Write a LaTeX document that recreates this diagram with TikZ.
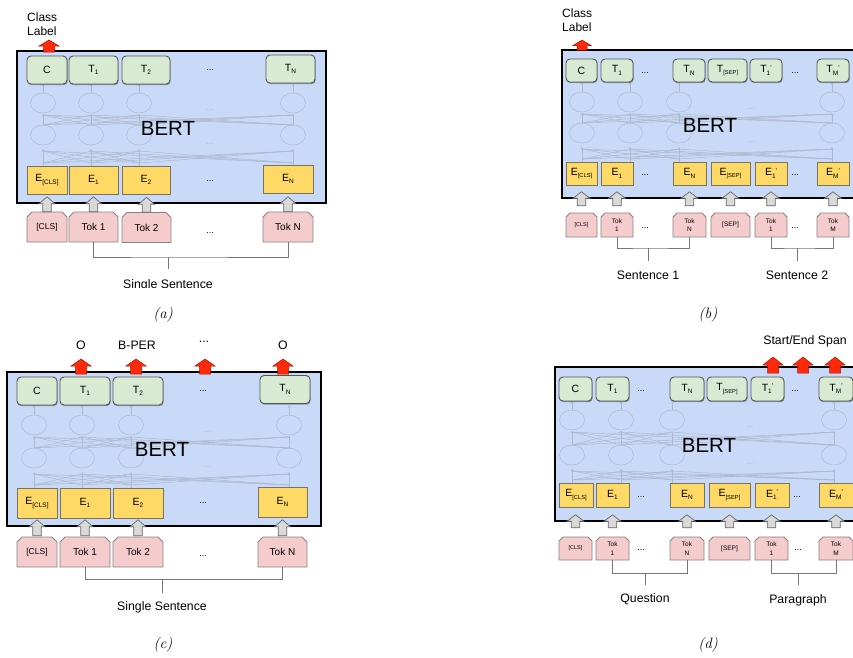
\documentclass[tikz,border=0pt]{standalone}
\usepackage{fontspec}
\newfontfamily\arialf{Liberation Sans}
\usetikzlibrary{shadows,calc,arrows.meta}
\definecolor{bertfill}{HTML}{C9DAF8}
\definecolor{gfill}{HTML}{D9EAD3}
\definecolor{gline}{HTML}{555555}
\definecolor{efill}{HTML}{FFD966}
\definecolor{eline}{HTML}{7A7260}
\definecolor{pfill}{HTML}{F4CCCC}
\definecolor{pline}{HTML}{8A8282}
\definecolor{afill}{HTML}{D9D9D9}
\definecolor{aline}{HTML}{666666}
\definecolor{rfill}{HTML}{FF2A0A}
\definecolor{rline}{HTML}{A81000}
\definecolor{netc}{HTML}{ADB8CD}
\definecolor{brkc}{HTML}{777777}
\newcommand\msub[1]{\raisebox{-0.45ex}{\fontsize{6.5}{7}\selectfont #1}}
\newcommand\msubs[1]{\raisebox{-0.45ex}{\fontsize{5.8}{6}\selectfont #1}}
\newcommand\mprime{\raisebox{0.45ex}{\fontsize{7}{7}\selectfont\char"27}}
\newcommand\blockarr[6][]{%
  \path[#1] let \p1=#2, \p2=#3 in
   (\x1-#4pt,\y1) -- (\x1-#4pt,\y2-#6pt) -- (\x1-#5pt,\y2-#6pt) -- (\x1,\y2)
   -- (\x1+#5pt,\y2-#6pt) -- (\x1+#4pt,\y2-#6pt) -- (\x1+#4pt,\y1) -- cycle;}
\newcommand\garr[5]{\blockarr[garrow]{($(#1.north)+(0,-#2)$)}{($(#1.north)+(0,-#3)$)}{4.2}{#4}{#5}}
% token box: [style]{name}{x}{y}{w}{h}{chamfer}{text}
\newcommand\tokbox[8][tok]{%
  \filldraw[tokshape] (#3-#5/2,#4+#6/2) -- (#3-#5/2,#4-#6/2+#7) -- (#3-#5/2+#7,#4-#6/2)
    -- (#3+#5/2-#7,#4-#6/2) -- (#3+#5/2,#4-#6/2+#7) -- (#3+#5/2,#4+#6/2) -- cycle;
  \node[#1,sz={#5}{#6}] (#2) at (#3,#4) {#8};}
\newcommand\bertnet[6]{%
  \foreach \xa in {#1}{
    \draw[net] (\xa,#2) ellipse (12.5 and 10);
    \draw[net] (\xa,#3) ellipse (12.5 and 10);
    \draw[neta] (\xa,#4) -- (\xa,#3+14);
    \draw[neta] (\xa,#3-10) -- (\xa,#2+11);
    \draw[neta] (\xa,#2-10) -- (\xa,#5);
    \foreach \xb in {#1}{
      \draw[net] (\xa,#4-3) -- (\xb,#3+16);
      \draw[net] (\xa,#3-10) -- (\xb,#2+12);
    }
  }
  \node[netdots] at (#6,#2+7) {...};
  \node[netdots] at (#6,#3+9) {...};
}
\begin{document}
\begin{tikzpicture}[x=1pt,y=-1pt,
  sz/.style 2 args={minimum width=#1pt,minimum height=#2pt},
  bert/.style={draw=black,line width=1.6pt,fill=bertfill,inner sep=0pt,anchor=north west},
  net/.style={draw=netc,line width=0.5pt},
  neta/.style={net,-{Stealth[length=2.5pt,width=2.5pt]}},
  netdots/.style={text=netc,font=\arialf\fontsize{8}{8}\selectfont,inner sep=0pt},
  bertlbl/.style={font=\arialf\fontsize{20.5}{20}\selectfont,inner sep=0pt},
  tbox/.style={draw=gline,fill=gfill,rounded corners=4pt,line width=0.9pt,inner sep=0pt,
     font=\arialf\fontsize{10.5}{10}\selectfont,
     drop shadow={shadow xshift=0.6pt,shadow yshift=-1.2pt,opacity=0.35,fill=black}},
  ebox/.style={draw=eline,fill=efill,line width=0.8pt,inner sep=0pt,
     font=\arialf\fontsize{10.5}{10}\selectfont},
  tokshape/.style={draw=pline,fill=pfill,line width=0.8pt},
  tok/.style={inner sep=0pt,align=center,font=\arialf\fontsize{10}{11}\selectfont},
  toks/.style={tok,font=\arialf\fontsize{6.5}{8.5}\selectfont},
  garrow/.style={draw=aline,fill=afill,line width=0.7pt},
  rarrow/.style={draw=rline,fill=rfill,line width=0.5pt},
  dots/.style={font=\arialf\fontsize{9}{9}\selectfont,inner sep=0pt},
  brk/.style={draw=brkc,line width=0.8pt},
  lbl/.style={font=\arialf\fontsize{12.3}{14}\selectfont,inner sep=0pt},
  caplbl/.style={font=\fontsize{15}{15}\selectfont\itshape,inner sep=0pt}]
\clip (0,0) rectangle (853,657);
\fill[white] (0,0) rectangle (853,657);

% ===================== (a) =====================
\node[bert,sz={309}{152}] (aB) at (16,50) {};
\bertnet{43,91,139,293}{103}{135}{166}{84}{210}
\node[bertlbl] (aBL) at (168,128) {BERT};
\node[tbox,sz={40}{28}] (aC) at (47,70) {C};
\node[tbox,sz={49}{28}] (aT1) at (93.5,70) {T\msub{1}};
\node[tbox,sz={48}{28}] (aT2) at (146,70) {T\msub{2}};
\node[dots] (aTd) at (210,70) {...};
\node[tbox,sz={49}{28}] (aTN) at (290.5,69) {T\msub{N}};
\node[ebox,sz={40}{28}] (aE0) at (47,180) {E\msub{[CLS]}};
\node[ebox,sz={49}{28}] (aE1) at (93.5,180) {E\msub{1}};
\node[ebox,sz={48}{28}] (aE2) at (146,180) {E\msub{2}};
\node[dots] (aEd) at (210,181) {...};
\node[ebox,sz={50}{28}] (aEN) at (288,179) {E\msub{N}};
\tokbox{aK0}{47}{227}{40}{30}{5}{\fontsize{8.5}{9}\selectfont[CLS]}
\tokbox{aK1}{93.5}{227}{49}{30}{5}{Tok 1}
\tokbox{aK2}{146.5}{227.5}{49}{30}{5}{Tok 2}
\node[dots] (aKd) at (210,233) {...};
\tokbox{aKN}{288}{227}{50}{30}{5}{Tok N}
\foreach \k in {aK0,aK1,aK2,aKN}{\garr{\k}{0}{15}{8}{7}}
\coordinate (aR0) at (49,52);
\coordinate (aR1) at (49,40);
\blockarr[rarrow]{(aR0)}{(aR1)}{5.5}{10}{6}
\node[lbl,align=left,anchor=west,font=\arialf\fontsize{12}{14}\selectfont] (aCL) at (27,24) {Class\\Label};
\coordinate (aBr) at (168,257);
\draw[brk] (aK1.south) |- (aBr) -| (aKN.south);
\coordinate (aBs) at (168,269);
\draw[brk] (aBr) -- (aBs);
\begin{scope}
\clip (0,0) rectangle (330,287);
\node[lbl,anchor=base] (aSS) at (168,288) {Single Sentence};
\end{scope}
\node[caplbl] (aCap) at (163,315) {(a)};

% ===================== (b) =====================
\node[bert,sz={320}{148}] (bB) at (561,49) {};
\bertnet{582,630,679,832}{102}{133}{162}{82}{752}
\node[bertlbl] (bBL) at (710,125) {BERT};
\node[tbox,sz={31}{23}] (bC) at (581.5,70.5) {C};
\node[tbox,sz={32}{23}] (bT1) at (617,70.5) {T\msub{1}};
\node[dots] (bTd1) at (645,73) {...};
\node[tbox,sz={32}{23}] (bTN) at (689,70.5) {T\msub{N}};
\node[tbox,sz={39}{23}] (bTS) at (727.5,70.5) {T\msubs{[SEP]}};
\node[tbox,sz={32}{23}] (bT1p) at (766,70.5) {T\msub{1}\mprime};
\node[dots] (bTd2) at (795,73) {...};
\node[tbox,sz={32}{23}] (bTM) at (833,70.5) {T\msub{M}\mprime};
\node[ebox,sz={31}{23}] (bE0) at (581.5,173.5) {E\msubs{[CLS]}};
\node[ebox,sz={32}{23}] (bE1) at (617,173.5) {E\msub{1}};
\node[dots] (bEd1) at (645,175) {...};
\node[ebox,sz={33}{23}] (bEN) at (689.5,173.5) {E\msub{N}};
\node[ebox,sz={39}{23}] (bES) at (730.5,173.5) {E\msubs{[SEP]}};
\node[ebox,sz={32}{23}] (bE1p) at (771,173.5) {E\msub{1}\mprime};
\node[dots] (bEd2) at (795,175) {...};
\node[ebox,sz={32}{23}] (bEM) at (833,173.5) {E\msub{M}\mprime};
\tokbox[toks]{bK0}{581.5}{225}{31}{24}{4}{\fontsize{5.5}{6}\selectfont[CLS]}
\tokbox[toks]{bK1}{617}{225}{32}{24}{4}{Tok\\1}
\node[dots] (bKd1) at (645,228) {...};
\tokbox[toks]{bKN}{689.5}{225}{33}{24}{4}{Tok\\N}
\tokbox[toks]{bKS}{730.5}{225}{39}{24}{4}{[SEP]}
\tokbox[toks]{bK1p}{771}{225}{32}{24}{4}{Tok\\1}
\node[dots] (bKd2) at (795,228) {...};
\tokbox[toks]{bKM}{833}{225}{32}{24}{4}{Tok\\M}
\foreach \k in {bK0,bK1,bKN,bKS,bK1p,bKM}{\garr{\k}{7}{21}{8.5}{6.5}}
\coordinate (bR0) at (582,50);
\coordinate (bR1) at (582,40);
\blockarr[rarrow]{(bR0)}{(bR1)}{5}{9}{5.5}
\node[lbl,align=left,anchor=west,font=\arialf\fontsize{12}{14}\selectfont] (bCL) at (562,20) {Class\\Label};
\coordinate (bBr1) at (648,248);
\draw[brk] (bK1.south) |- (bBr1) -| (bKN.south);
\coordinate (bBs1) at (648,261);
\draw[brk] (bBr1) -- (bBs1);
\node[lbl] (bS1) at (648,275) {Sentence 1};
\coordinate (bBr2) at (797,248);
\draw[brk] (bK1p.south) |- (bBr2) -| (bKM.south);
\coordinate (bBs2) at (797,261);
\draw[brk] (bBr2) -- (bBs2);
\node[lbl] (bS2) at (797,275) {Sentence 2};
\node[caplbl] (bCap) at (708,315) {(b)};

% ===================== (c) =====================
\node[bert,sz={314}{154}] (cB) at (6,371) {};
\bertnet{34,82,131,289}{425}{458}{488}{405}{207}
\node[bertlbl] (cBL) at (162,449) {BERT};
\node[tbox,sz={40}{28}] (cC) at (37,391) {C};
\node[tbox,sz={50}{28}] (cT1) at (85,391) {T\msub{1}};
\node[tbox,sz={50}{28}] (cT2) at (138,391) {T\msub{2}};
\node[dots] (cTd) at (203,391) {...};
\node[tbox,sz={50}{28}] (cTN) at (285,389.5) {T\msub{N}};
\node[ebox,sz={40}{30}] (cE0) at (37,503) {E\msub{[CLS]}};
\node[ebox,sz={50}{30}] (cE1) at (85,503) {E\msub{1}};
\node[ebox,sz={50}{30}] (cE2) at (138,503) {E\msub{2}};
\node[dots] (cEd) at (203,503) {...};
\node[ebox,sz={49}{30}] (cEN) at (282.5,502) {E\msub{N}};
\tokbox{cK0}{37}{552}{40}{30}{5}{\fontsize{8.5}{9}\selectfont[CLS]}
\tokbox{cK1}{85}{552}{50}{30}{5}{Tok 1}
\tokbox{cK2}{138}{552}{50}{30}{5}{Tok 2}
\node[dots] (cKd) at (203,556) {...};
\tokbox{cKN}{282.5}{552}{49}{30}{5}{Tok N}
\foreach \k in {cK0,cK1,cK2,cKN}{\garr{\k}{1}{17}{8}{7}}
\node[lbl] (cL1) at (81,345) {O};
\node[lbl] (cL2) at (137,345) {B-PER};
\node[lbl] (cL3) at (204,342) {...};
\node[lbl] (cL4) at (283,345) {O};
\foreach \xr/\nm in {81/1,136/2,205/3,283/4}{
  \coordinate (cR\nm a) at (\xr,374);
  \coordinate (cR\nm b) at (\xr,359);
  \blockarr[rarrow]{(cR\nm a)}{(cR\nm b)}{5.5}{10}{7}
}
\coordinate (cBr) at (162,579);
\draw[brk] (cK1.south) |- (cBr) -| (cKN.south);
\coordinate (cBs) at (162,593);
\draw[brk] (cBr) -- (cBs);
\node[lbl] (cSS) at (162,607) {Single Sentence};
\node[caplbl] (cCap) at (163,645) {(c)};

% ===================== (d) =====================
\node[bert,sz={320}{154}] (dB) at (554,366) {};
\bertnet{572,621,672,834}{420}{455}{483}{401}{750}
\node[bertlbl] (dBL) at (709,445) {BERT};
\node[tbox,sz={33}{24}] (dC) at (575.5,389) {C};
\node[tbox,sz={33}{24}] (dT1) at (612.5,389) {T\msub{1}};
\node[dots] (dTd1) at (641,391) {...};
\node[tbox,sz={34}{24}] (dTN) at (687,389) {T\msub{N}};
\node[tbox,sz={40}{24}] (dTS) at (727,389) {T\msubs{[SEP]}};
\node[tbox,sz={33}{24}] (dT1p) at (767.5,389) {T\msub{1}\mprime};
\node[dots] (dTd2) at (795,391) {...};
\node[tbox,sz={34}{24}] (dTM) at (836,389) {T\msub{M}\mprime};
\node[ebox,sz={34}{24}] (dE0) at (576,495) {E\msubs{[CLS]}};
\node[ebox,sz={33}{24}] (dE1) at (612.5,495) {E\msub{1}};
\node[dots] (dEd1) at (641,497) {...};
\node[ebox,sz={34}{24}] (dEN) at (687,495) {E\msub{N}};
\node[ebox,sz={41}{24}] (dES) at (729.5,495) {E\msubs{[SEP]}};
\node[ebox,sz={34}{24}] (dE1p) at (772,495) {E\msub{1}\mprime};
\node[dots] (dEd2) at (797,497) {...};
\node[ebox,sz={34}{24}] (dEM) at (836,495) {E\msub{M}\mprime};
\tokbox[toks]{dK0}{575.5}{548.5}{33}{23}{4}{\fontsize{5.5}{6}\selectfont[CLS]}
\tokbox[toks]{dK1}{612.5}{548.5}{33}{23}{4}{Tok\\1}
\node[dots] (dKd1) at (641,550) {...};
\tokbox[toks]{dKN}{687}{548.5}{34}{23}{4}{Tok\\N}
\tokbox[toks]{dKS}{729.5}{548.5}{41}{23}{4}{[SEP]}
\tokbox[toks]{dK1p}{771.5}{548.5}{33}{23}{4}{Tok\\1}
\node[dots] (dKd2) at (798,550) {...};
\tokbox[toks]{dKM}{836}{548.5}{34}{23}{4}{Tok\\M}
\foreach \k in {dK0,dK1,dKN,dKS,dK1p,dKM}{\garr{\k}{9}{22}{8.5}{6.5}}
\node[lbl] (dL) at (805,341) {Start/End Span};
\foreach \xr/\nm in {773/1,803/2,835/3}{
  \coordinate (dR\nm a) at (\xr,373);
  \coordinate (dR\nm b) at (\xr,357);
  \blockarr[rarrow]{(dR\nm a)}{(dR\nm b)}{5.5}{10}{8}
}
\coordinate (dBr1) at (645,573);
\draw[brk] (dK1.south) |- (dBr1) -| (dKN.south);
\coordinate (dBs1) at (645,585);
\draw[brk] (dBr1) -- (dBs1);
\node[lbl] (dQ) at (645,599) {Question};
\coordinate (dBr2) at (798,573);
\draw[brk] (dK1p.south) |- (dBr2) -| (dKM.south);
\coordinate (dBs2) at (798,585);
\draw[brk] (dBr2) -- (dBs2);
\node[lbl] (dP) at (798,600) {Paragraph};
\node[caplbl] (dCap) at (708,645) {(d)};
\end{tikzpicture}
\end{document}
